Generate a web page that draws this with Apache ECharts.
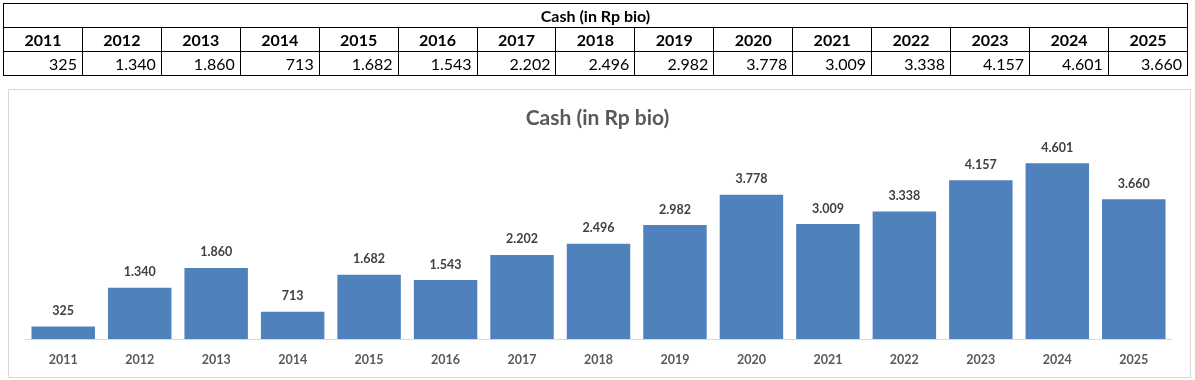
<!DOCTYPE html>
<html>
<head>
<meta charset="utf-8">
<script src="https://cdn.jsdelivr.net/npm/echarts@6/dist/echarts.min.js"></script>
<style>
  html, body { margin: 0; padding: 0; background: #fff; }
  #wrap { position: relative; width: 1195px; height: 380px; overflow: hidden; }
  #chart { position: absolute; left: 0; top: 0; width: 1195px; height: 380px; }
  #tbl { position: absolute; left: 3px; top: 3px; border-collapse: collapse; font-family: Lato, "Open Sans", sans-serif; font-size: 16px; color: #000; table-layout: fixed; width: 1185px; }
  #tbl td { border: 1px solid #000; padding: 0 5px; height: 24px; box-sizing: border-box; line-height: 22px; }
  #tbl .title td { text-align: center; font-weight: bold; }
  #tbl .head td { text-align: center; font-weight: bold; }
  #tbl .val td { text-align: right; }
</style>
</head>
<body>
<div id="wrap">
  <div id="chart"></div>
  <table id="tbl"></table>
</div>
<script>
const title = "Cash (in Rp bio)";
const years = ["2011","2012","2013","2014","2015","2016","2017","2018","2019","2020","2021","2022","2023","2024","2025"];
const cash = [325, 1340, 1860, 713, 1682, 1543, 2202, 2496, 2982, 3778, 3009, 3338, 4157, 4601, 3660];

function fmt(v) {
  return String(v).replace(/\B(?=(\d{3})+(?!\d))/g, ".");
}

// Table
const tbl = document.getElementById("tbl");
let html = '<tr class="title"><td colspan="' + years.length + '">' + title + '</td></tr>';
html += '<tr class="head">' + years.map(y => '<td>' + y + '</td>').join('') + '</tr>';
html += '<tr class="val">' + cash.map(v => '<td>' + fmt(v) + '</td>').join('') + '</tr>';
tbl.innerHTML = html;

// Chart
const chart = echarts.init(document.getElementById("chart"), null, { renderer: "canvas" });
chart.setOption({
  animation: false,
  backgroundColor: "#fff",
  graphic: [{
    type: "rect",
    shape: { x: 8.5, y: 89.5, width: 1182, height: 288 },
    style: { fill: "#fff", stroke: "#D9D9D9", lineWidth: 1 },
    z: -10
  }],
  title: {
    text: title,
    left: "center",
    top: 103,
    textStyle: { fontFamily: "Lato, sans-serif", fontSize: 21, fontWeight: "bold", color: "#595959" }
  },
  grid: { left: 25, right: 23, top: 148, bottom: 41, containLabel: false },
  xAxis: {
    type: "category",
    data: years,
    axisLine: { lineStyle: { color: "#D9D9D9", width: 1 } },
    axisTick: { show: false },
    axisLabel: { margin: 14, fontFamily: "Lato, sans-serif", fontSize: 12.5, fontWeight: "bold", color: "#595959" }
  },
  yAxis: {
    type: "value",
    min: 0,
    max: 5000,
    interval: 1000,
    show: false
  },
  series: [{
    type: "bar",
    data: cash,
    barCategoryGap: "17%",
    itemStyle: { color: "#4F81BD" },
    label: {
      show: true,
      position: "top",
      distance: 9,
      formatter: p => fmt(p.value),
      fontFamily: "Lato, sans-serif",
      fontSize: 12.5,
      fontWeight: "bold",
      color: "#404040"
    }
  }]
});
</script>
</body>
</html>
